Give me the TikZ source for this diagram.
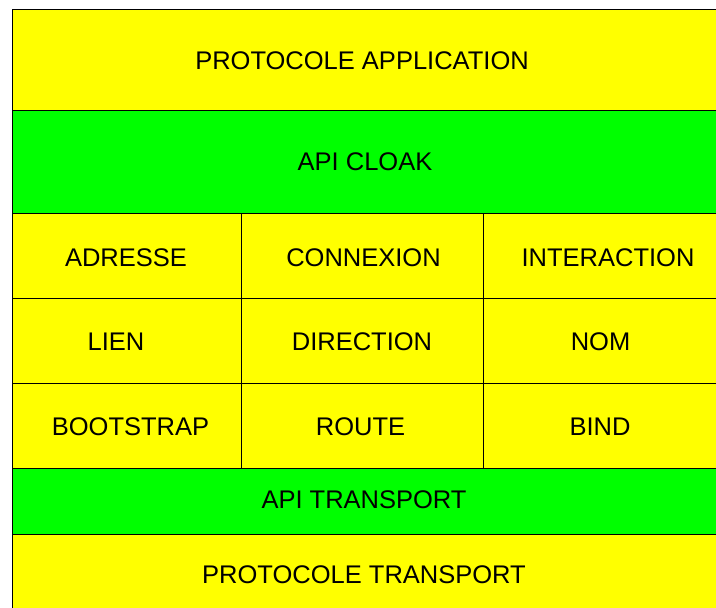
\documentclass[tikz,border=0pt]{standalone}
\usepackage{fontspec}
\setmainfont{Liberation Sans}
\definecolor{cellyellow}{HTML}{FFFF00}
\definecolor{cellgreen}{HTML}{00FF00}
\begin{document}
\begin{tikzpicture}[x=1pt,y=-1pt,
  cell/.style={draw=black, line width=0.9pt, inner sep=0pt, outer sep=0pt, anchor=center},
  ycell/.style={cell, fill=cellyellow},
  gcell/.style={cell, fill=cellgreen},
  txt/.style={inner sep=0pt, anchor=center, font=\fontsize{25.5}{30}\selectfont}]
\useasboundingbox (0,0) rectangle (716,608);
\clip (0,0) rectangle (716,608);
% full-width bands (right edge just outside the picture)
\node[ycell, minimum width=708pt, minimum height=101pt] (app) at (366,59.5) {};
\node[gcell, minimum width=708pt, minimum height=103pt] (cloak) at (366,161.5) {};
% grid
\node[ycell, minimum width=229pt, minimum height=85pt] (adresse) at (126.5,255.5) {};
\node[ycell, minimum width=242pt, minimum height=85pt] (connexion) at (362,255.5) {};
\node[ycell, minimum width=237pt, minimum height=85pt] (interaction) at (601.5,255.5) {};
\node[ycell, minimum width=229pt, minimum height=85pt] (lien) at (126.5,340.5) {};
\node[ycell, minimum width=242pt, minimum height=85pt] (direction) at (362,340.5) {};
\node[ycell, minimum width=237pt, minimum height=85pt] (nom) at (601.5,340.5) {};
\node[ycell, minimum width=229pt, minimum height=85pt] (bootstrap) at (126.5,425.5) {};
\node[ycell, minimum width=242pt, minimum height=85pt] (route) at (362,425.5) {};
\node[ycell, minimum width=237pt, minimum height=85pt] (bind) at (601.5,425.5) {};
% lower bands
\node[gcell, minimum width=708pt, minimum height=66pt] (apitransport) at (366,501) {};
\node[ycell, minimum width=708pt, minimum height=82pt] (transport) at (366,575) {};
% labels
\node[txt] (tapp) at (362,61) {PROTOCOLE APPLICATION};
\node[txt] (tcloak) at (365,162) {API CLOAK};
\node[txt] (tadresse) at (126,258) {ADRESSE};
\node[txt] (tconnexion) at (363.5,258) {CONNEXION};
\node[txt] (tinteraction) at (608,258) {INTERACTION};
\node[txt] (tlien) at (116,342) {LIEN};
\node[txt] (tdirection) at (362,342) {DIRECTION};
\node[txt] (tnom) at (600.5,342) {NOM};
\node[txt] (tbootstrap) at (130.5,427) {BOOTSTRAP};
\node[txt] (troute) at (360.5,427) {ROUTE};
\node[txt] (tbind) at (600,427) {BIND};
\node[txt] (tapitransport) at (364,500) {API TRANSPORT};
\node[txt] (ttransport) at (364,575) {PROTOCOLE TRANSPORT};
\end{tikzpicture}
\end{document}
